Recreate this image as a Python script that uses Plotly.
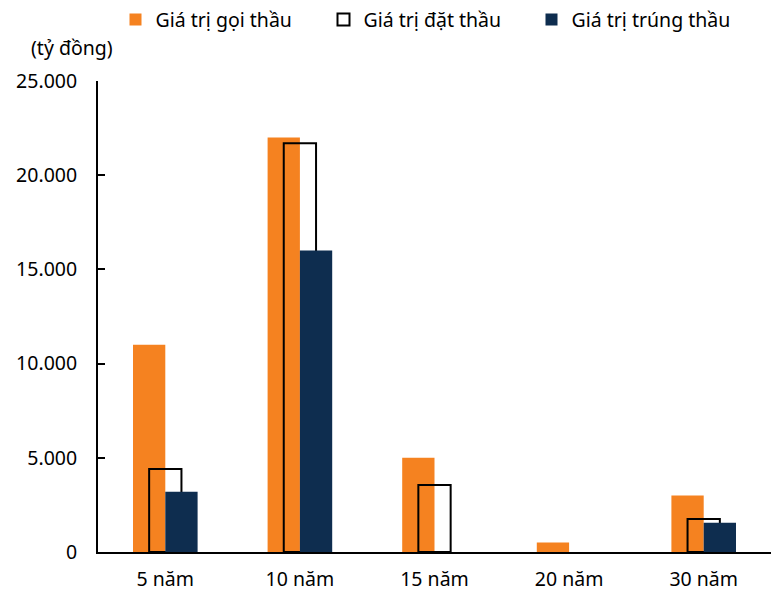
import plotly.graph_objects as go

# Kỳ hạn trái phiếu
categories = ["5 năm", "10 năm", "15 năm", "20 năm", "30 năm"]

# Giá trị (tỷ đồng); None = không có giá trị
goi_thau = [11000, 22000, 5000, 500, 3000]
dat_thau = [4400, 21700, 3550, None, 1750]
trung_thau = [3200, 16000, None, None, 1550]

y_ticks = [0, 5000, 10000, 15000, 20000, 25000]

ORANGE = "#F58220"
NAVY = "#0E2D4F"
FONT = "Noto Sans"
FS = 19.5

fig = go.Figure()

fig.add_trace(go.Bar(
    name="Giá trị gọi thầu", x=categories, y=goi_thau,
    marker=dict(color=ORANGE, line=dict(width=0)),
    offset=-0.24, width=0.24,
))
fig.add_trace(go.Bar(
    name="Giá trị đặt thầu", x=categories, y=dat_thau,
    marker=dict(color="rgba(255,255,255,0)", line=dict(color="black", width=2)),
    offset=-0.12, width=0.24,
))
fig.add_trace(go.Bar(
    name="Giá trị trúng thầu", x=categories, y=trung_thau,
    marker=dict(color=NAVY, line=dict(width=0)),
    offset=0, width=0.24,
))

fig.update_layout(
    width=771, height=591,
    margin=dict(l=98, r=0, t=81, b=39),
    paper_bgcolor="white", plot_bgcolor="white",
    barmode="overlay",
    separators=",.",
    font=dict(family=FONT, size=FS, color="black"),
    legend=dict(
        orientation="h", x=(115.5 - 98) / 673, xanchor="left", y=1.13, yanchor="middle",
        font=dict(family=FONT, size=FS, color="black"),
        itemwidth=30, entrywidth=163, entrywidthmode="pixels",
        traceorder="normal",
    ),
    xaxis=dict(
        range=[-0.5, 4.5], showline=True, linecolor="black", linewidth=2,
        showgrid=False, ticks="", tickfont=dict(size=FS),
        ticklabelstandoff=9,
    ),
    yaxis=dict(
        range=[0, 25000], tickvals=y_ticks, tickformat=",d",
        showline=True, linecolor="black", linewidth=2,
        ticks="inside", ticklen=7, tickwidth=2, tickcolor="black",
        showgrid=False, zeroline=False, tickfont=dict(size=FS),
        ticklabelstandoff=15,
    ),
    annotations=[dict(
        text="(tỷ đồng)", xref="paper", yref="paper",
        x=(71.5 - 98) / 673, y=1.072, xanchor="center", yanchor="middle",
        showarrow=False, font=dict(family=FONT, size=FS, color="black"),
    )],
)

fig.write_html("out.html")
